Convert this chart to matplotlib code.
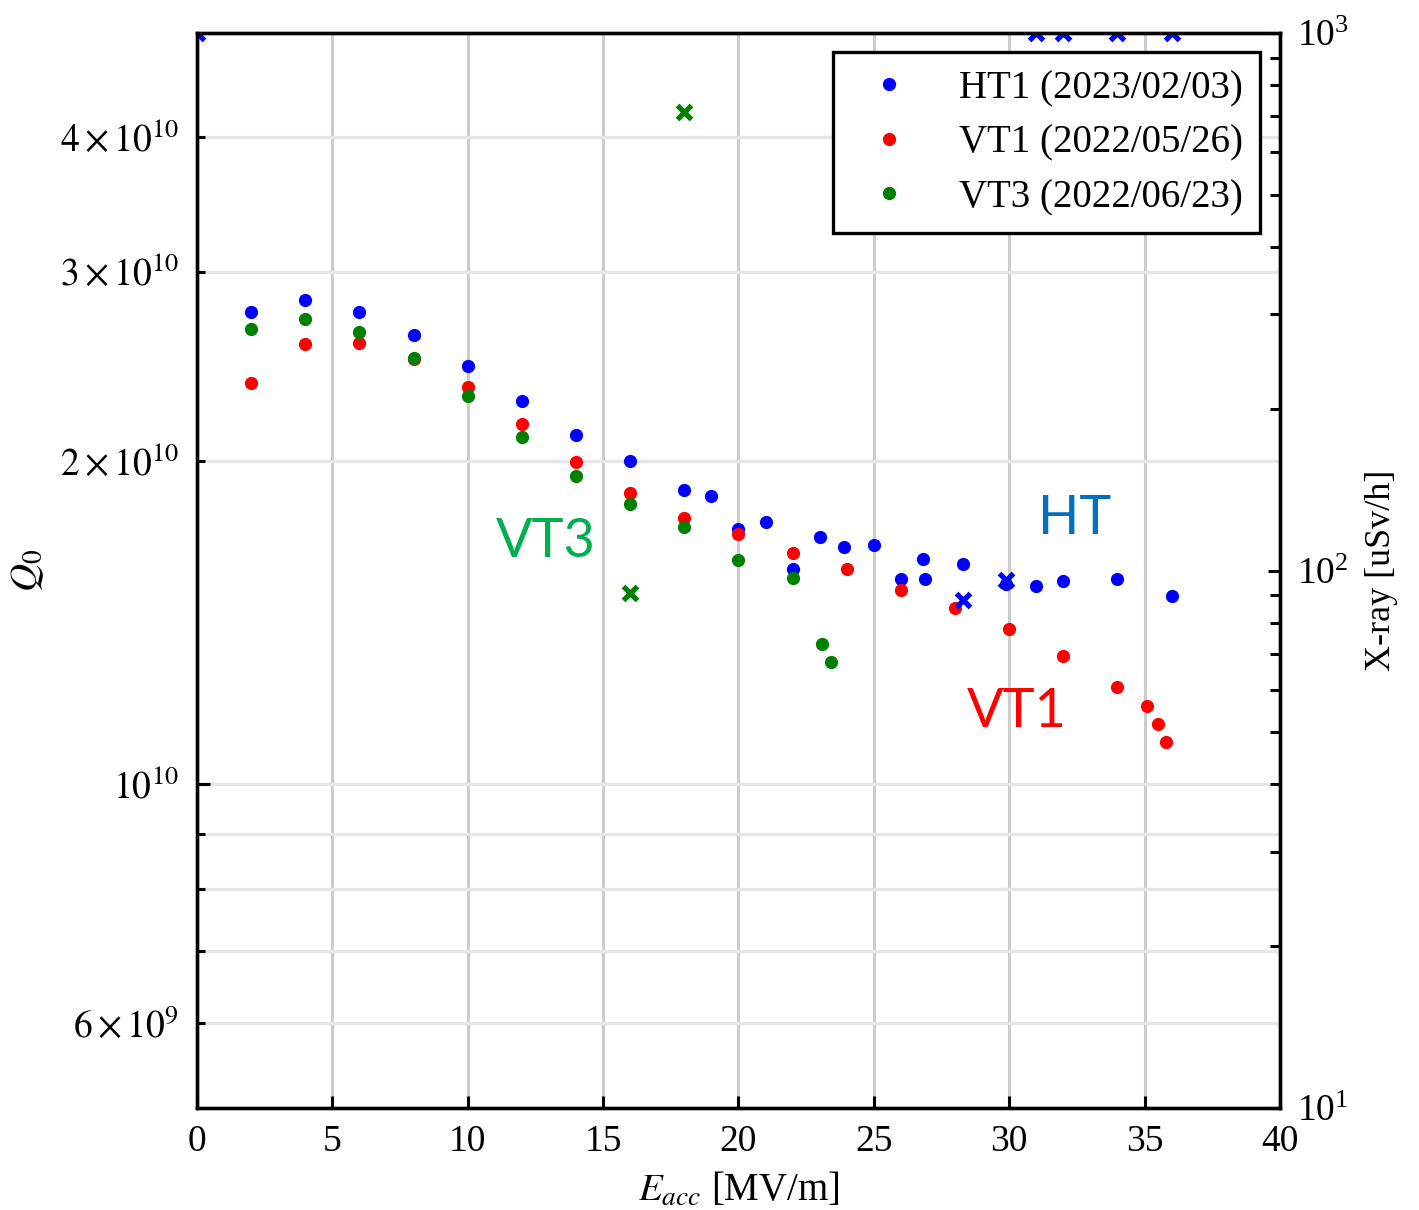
import matplotlib
matplotlib.use("Agg")
import matplotlib.pyplot as plt

plt.rcParams.update(
    {
        "font.family": ["Liberation Serif", "DejaVu Serif"],
        "mathtext.fontset": "stix",
        "font.size": 26,
        "axes.linewidth": 2.4,
    }
)

# Q0 vs Eacc
ht1_e = [2, 4, 6, 8, 10, 12, 14, 16, 18, 19, 20, 21, 22, 23, 23.9, 25,
         26, 26.8, 26.9, 28.3, 29.9, 31, 32, 34, 36]
ht1_q0 = [2.75e10, 2.82e10, 2.75e10, 2.62e10, 2.45e10, 2.275e10, 2.115e10,
          2.0e10, 1.88e10, 1.855e10, 1.73e10, 1.755e10, 1.586e10, 1.70e10,
          1.663e10, 1.67e10, 1.553e10, 1.62e10, 1.553e10, 1.603e10,
          1.536e10, 1.53e10, 1.546e10, 1.553e10, 1.496e10]

vt1_e = [2, 4, 6, 8, 10, 12, 14, 16, 18, 20, 22, 24, 26, 28, 30, 32, 34,
         35.1, 35.5, 35.8]
vt1_q0 = [2.364e10, 2.57e10, 2.576e10, 2.485e10, 2.344e10, 2.165e10,
          1.996e10, 1.867e10, 1.77e10, 1.71e10, 1.642e10, 1.586e10,
          1.516e10, 1.459e10, 1.395e10, 1.316e10, 1.231e10, 1.182e10,
          1.137e10, 1.094e10]

vt3_e = [2, 4, 6, 8, 10, 12, 14, 16, 18, 20, 22, 23.1, 23.4]
vt3_q0 = [2.655e10, 2.707e10, 2.638e10, 2.494e10, 2.299e10, 2.106e10,
          1.936e10, 1.823e10, 1.736e10, 1.617e10, 1.556e10, 1.35e10,
          1.299e10]

# X-ray dose (right axis); 1000 = off scale
ht1_xray_e = [0, 28.3, 29.9, 31, 32, 34, 36]
ht1_xray = [1000, 88, 96, 1000, 1000, 1000, 1000]
vt3_xray_e = [16, 18]
vt3_xray = [90.8, 712]

fig = plt.figure(figsize=(14.19, 12.10), dpi=100)
ax = fig.add_axes([0.1388, 0.0843, 0.7632, 0.8884])

ax.plot(ht1_e, ht1_q0, "o", color="#0000ff", ms=8.5, label="HT1 (2023/02/03)")
ax.plot(vt1_e, vt1_q0, "o", color="#ff0000", ms=8.5, label="VT1 (2022/05/26)")
ax.plot(vt3_e, vt3_q0, "o", color="#008000", ms=8.5, label="VT3 (2022/06/23)")

ax.set_yscale("log")
ax.set_xlim(0, 40)
ax.set_ylim(5e9, 5e10)
ax.set_xticks(range(0, 41, 5))
ax.set_yticks([1e10])
ax.set_yticklabels([r"$10^{10}$"])
ax.set_yticks([6e9, 7e9, 8e9, 9e9, 2e10, 3e10, 4e10], minor=True)
ax.set_yticklabels([r"$6\times10^{9}$", "", "", "", r"$2\times10^{10}$",
                    r"$3\times10^{10}$", r"$4\times10^{10}$"], minor=True)

ax.tick_params(axis="both", which="both", direction="in", labelsize=27,
               width=2.2, top=False, right=False)
ax.tick_params(axis="x", which="major", length=9, pad=12)
ax.tick_params(axis="y", which="major", length=9, pad=13)
ax.tick_params(axis="y", which="minor", length=6, pad=13)

ax.set_axisbelow(True)
ax.grid(axis="x", which="major", color="#cccccc", lw=2.2)
ax.grid(axis="y", which="both", color="#e6e6e6", lw=2.4)

ax.set_xlabel(r"$E_{acc}$ [MV/m]", fontsize=28, labelpad=9)
ax.set_ylabel(r"$Q_0$", fontsize=28, labelpad=10)

leg = ax.legend(loc="upper right", fontsize=28, fancybox=False,
                edgecolor="black", framealpha=1, handletextpad=0.8,
                labelspacing=0.45, borderpad=0.45, handlelength=2.0,
                numpoints=1)
leg.get_frame().set_linewidth(2.4)

ax2 = ax.twinx()
ax2.plot(ht1_xray_e, ht1_xray, "x", color="#0000ff", ms=10.5, mew=3.8)
ax2.plot(vt3_xray_e, vt3_xray, "x", color="#008000", ms=10.5, mew=3.8)
ax2.set_yscale("log")
ax2.set_ylim(10, 1000)
ax2.tick_params(axis="y", which="both", direction="in", labelsize=27,
                width=2.2, pad=12)
ax2.tick_params(axis="y", which="major", length=9)
ax2.tick_params(axis="y", which="minor", length=7)
ax2.set_ylabel("X-ray [uSv/h]", fontsize=26, labelpad=12)

ax.text(0.322, 0.527, "VT3", transform=ax.transAxes, color="#00b050",
        fontsize=39, family="Lato", ha="center", va="center")
ax.text(0.810, 0.548, "HT", transform=ax.transAxes, color="#0070c0",
        fontsize=39, family="Lato", ha="center", va="center")
ax.text(0.757, 0.369, "VT1", transform=ax.transAxes, color="#ff0000",
        fontsize=39, family="Lato", ha="center", va="center")

fig.savefig("out.png", dpi=100)
